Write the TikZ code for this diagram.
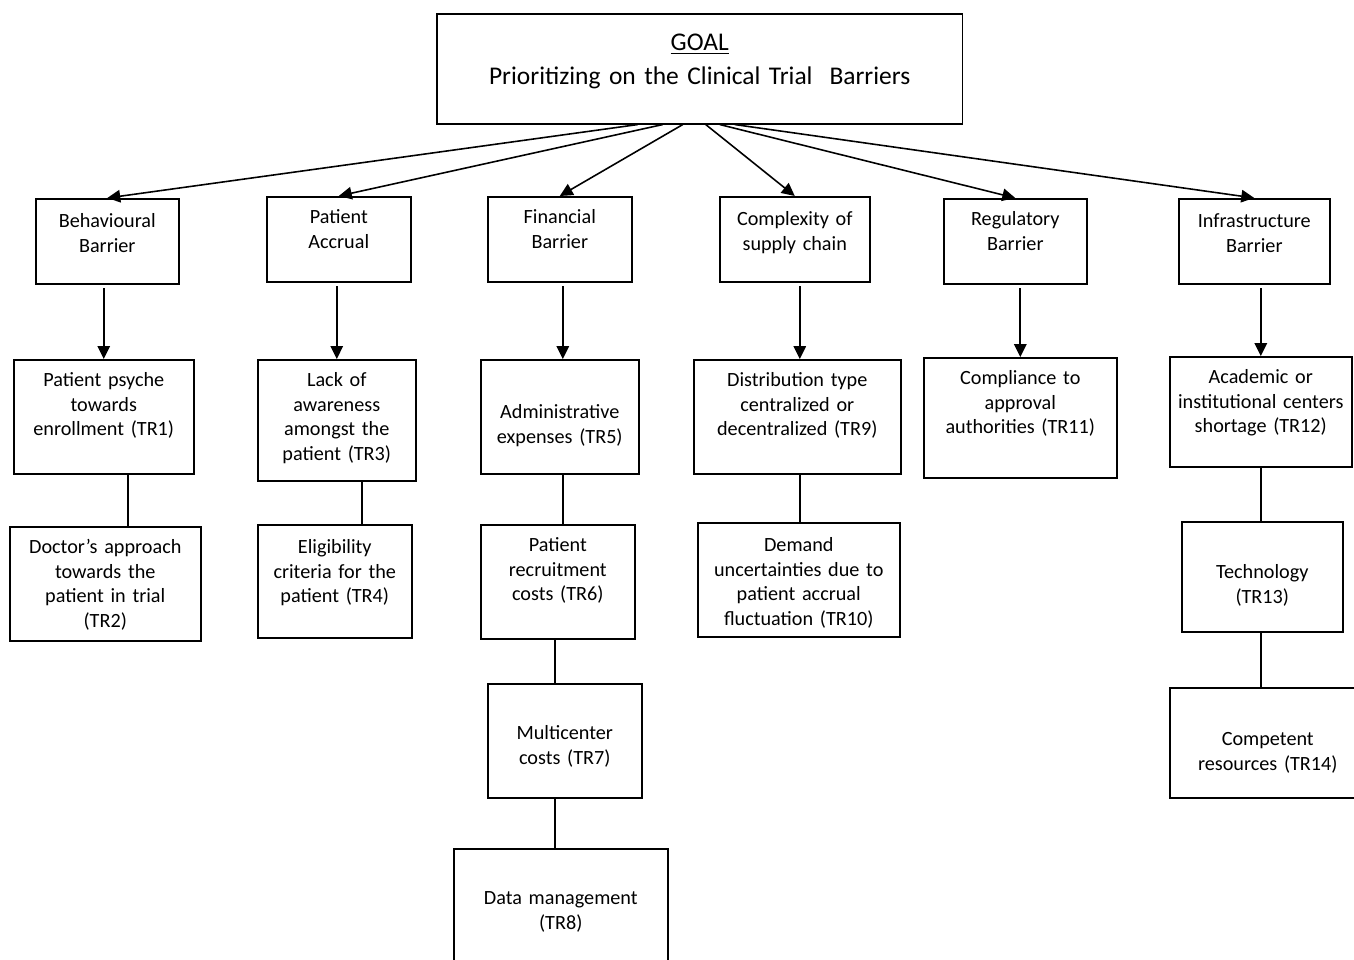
\documentclass[tikz,border=0pt]{standalone}
\usepackage{fontspec}
\setmainfont{Carlito}
\usepackage{tikz}
\usetikzlibrary{arrows.meta}
\tikzset{
    barrier/.style={draw, line width=0.9pt, inner sep=0pt, align=center, anchor=north west, font=\fontsize{11.5}{14}\selectfont},
    goalbox/.style={barrier, font=\fontsize{14.5}{19}\selectfont},
    arr/.style={draw, line width=0.9pt, -{Triangle[width=0.25cm,length=0.26cm]}},
    link/.style={draw, line width=0.9pt}
}
\begin{document}
\begin{tikzpicture}[x=0.02cm, y=-0.02cm]
    \useasboundingbox (0,0) rectangle (1354,959);

    % --- MỤC TIÊU ---
    \node[goalbox, text width=10.52cm, text height=0.74cm, text depth=1.46cm] (goal) at (436,13)
        {\underline{GOAL}\\Prioritizing on the Clinical Trial\ \ Barriers};

    % --- CẤP 1: các nhóm rào cản ---
    \node[barrier, text width=2.86cm, text height=0.58cm, text depth=1.12cm] (beh) at (35,198) {Behavioural\\Barrier};
    \node[barrier, text width=2.88cm, text height=0.54cm, text depth=1.16cm] (acc) at (266,196) {Patient\\Accrual};
    \node[barrier, text width=2.88cm, text height=0.54cm, text depth=1.16cm] (fin) at (487,196) {Financial\\Barrier};
    \node[barrier, text width=3.00cm, text height=0.58cm, text depth=1.12cm] (sup) at (719,196) {Complexity of\\supply chain};
    \node[barrier, text width=2.86cm, text height=0.54cm, text depth=1.16cm] (reg) at (943,198) {Regulatory\\Barrier};
    \node[barrier, text width=3.02cm, text height=0.58cm, text depth=1.12cm] (inf) at (1178,198) {Infrastructure\\Barrier};

    % --- CẤP 2 ---
    \node[barrier, text width=3.60cm, text height=0.54cm, text depth=1.74cm] (tr1) at (13,359) {Patient psyche\\towards\\enrollment (TR1)};
    \node[barrier, text width=3.16cm, text height=0.54cm, text depth=1.88cm] (tr3) at (257,359) {Lack of\\awareness\\amongst the\\patient (TR3)};
    \node[barrier, text width=3.16cm, text height=1.18cm, text depth=1.10cm] (tr5) at (480,359) {Administrative\\expenses (TR5)};
    \node[barrier, text width=4.14cm, text height=0.54cm, text depth=1.74cm] (tr9) at (693,359) {Distribution type\\centralized or\\decentralized (TR9)};
    \node[barrier, text width=3.86cm, text height=0.54cm, text depth=1.86cm] (tr11) at (923,357) {Compliance to\\approval\\authorities (TR11)};
    \node[barrier, text width=3.64cm, text height=0.54cm, text depth=1.66cm] (tr12) at (1169,356) {Academic or\\institutional centers\\shortage (TR12)};

    % --- CẤP 3 ---
    \node[barrier, text width=3.82cm, text height=0.54cm, text depth=1.74cm] (tr2) at (9,526) {Doctor's approach\\towards the\\patient in trial\\(TR2)};
    \node[barrier, text width=3.08cm, text height=0.58cm, text depth=1.68cm] (tr4) at (257,524) {Eligibility\\criteria for the\\patient (TR4)};
    \node[barrier, text width=3.08cm, text height=0.54cm, text depth=1.74cm] (tr6) at (480,524) {Patient\\recruitment\\costs (TR6)};
    \node[barrier, text width=4.04cm, text height=0.58cm, text depth=1.70cm] (tr10) at (697,522) {Demand\\uncertainties due to\\patient accrual\\fluctuation (TR10)};
    \node[barrier, text width=3.22cm, text height=1.14cm, text depth=1.06cm] (tr13) at (1181,521) {Technology\\(TR13)};

    % --- CẤP 4 và 5 ---
    \node[barrier, text width=3.08cm, text height=1.12cm, text depth=1.16cm] (tr7) at (487,683) {Multicenter\\costs (TR7)};
    \node[barrier, text width=3.92cm, text height=1.16cm, text depth=1.04cm] (tr14) at (1169,687) {Competent\\resources (TR14)};
    \node[barrier, text width=4.28cm, text height=1.12cm, text depth=1.48cm] (tr8) at (453,848) {Data management\\(TR8)};

    % --- MŨI TÊN TỪ MỤC TIÊU ---
    \draw[arr] ([xshift=-1.24cm]goal.south) -- (beh.north);
    \draw[arr] ([xshift=-0.74cm]goal.south) -- (acc.north);
    \draw[arr] ([xshift=-0.34cm]goal.south) -- (fin.north);
    \draw[arr] ([xshift=0.12cm]goal.south) -- (sup.north);
    \draw[arr] ([xshift=0.40cm]goal.south) -- (reg.north);
    \draw[arr] ([xshift=0.70cm]goal.south) -- (inf.north);

    % --- MŨI TÊN CẤP 1 -> CẤP 2 ---
    \draw[arr, shorten <=2pt] (tr1.north |- beh.south) -- (tr1.north);
    \draw[arr, shorten <=2pt] (tr3.north |- acc.south) -- (tr3.north);
    \draw[arr, shorten <=2pt] ([xshift=0.06cm]tr5.north |- fin.south) -- ([xshift=0.06cm]tr5.north);
    \draw[arr, shorten <=2pt] ([xshift=0.05cm]tr9.north |- sup.south) -- ([xshift=0.05cm]tr9.north);
    \draw[arr, shorten <=2pt] (tr11.north |- reg.south) -- (tr11.north);
    \draw[arr, shorten <=2pt] (tr12.north |- inf.south) -- (tr12.north);

    % --- ĐƯỜNG NỐI (không mũi tên) ---
    \draw[link] ([xshift=0.48cm]tr1.south) -- ([xshift=0.48cm]tr1.south |- tr2.north);
    \draw[link] ([xshift=0.50cm]tr3.south) -- ([xshift=0.50cm]tr3.south |- tr4.north);
    \draw[link] ([xshift=0.06cm]tr5.south) -- ([xshift=0.06cm]tr5.south |- tr6.north);
    \draw[link] ([xshift=-0.06cm]tr6.south) -- ([xshift=-0.06cm]tr6.south |- tr7.north);
    \draw[link] ([xshift=-0.20cm]tr7.south) -- ([xshift=-0.20cm]tr7.south |- tr8.north);
    \draw[link] ([xshift=0.05cm]tr9.south) -- ([xshift=0.05cm]tr9.south |- tr10.north);
    \draw[link] (tr12.south) -- (tr12.south |- tr13.north);
    \draw[link] ([xshift=-0.03cm]tr13.south) -- ([xshift=-0.03cm]tr13.south |- tr14.north);
\end{tikzpicture}
\end{document}
